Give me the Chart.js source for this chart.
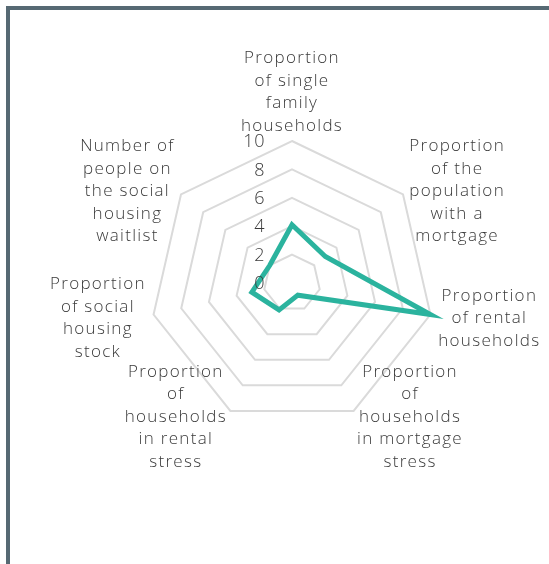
<!DOCTYPE html>
<html>
<head>
<meta charset="utf-8">
<script src="https://cdn.jsdelivr.net/npm/chart.js@4.4.0/dist/chart.umd.min.js"></script>
<style>
  body { margin: 0; background: #fff; }
  #box {
    position: absolute;
    left: 6px;
    top: 6px;
    width: 543px;
    height: 558px;
    border-left: 4px solid #566973;
    border-top: 4px solid #566973;
    box-sizing: border-box;
  }
  #wrap { position: absolute; left: 0; top: 0; width: 539px; height: 554px; }
</style>
</head>
<body>
<div id="box"><div id="wrap"><canvas id="radarChart"></canvas></div></div>
<script>
// categories (one per spoke)
const categories = [
    ['Proportion', 'of single', 'family', 'households'],
    ['Proportion', 'of the', 'population', 'with a', 'mortgage'],
    ['Proportion', 'of rental', 'households'],
    ['Proportion', 'of', 'households', 'in mortgage', 'stress'],
    ['Proportion', 'of', 'households', 'in rental', 'stress'],
    ['Proportion', 'of social', 'housing', 'stock'],
    ['Number of', 'people on', 'the social', 'housing', 'waitlist']
];

// values
const areaValues = [4.1, 3.0, 10, 0.95, 2.1, 2.9, 2.0];

// tick labels on the radial axis
const tickValues = [0, 2, 4, 6, 8, 10];

const textColor = '#3a3a3a';
const fontFamily = '"Open Sans", Lato, sans-serif';
const lineHeight = 22.5;

// Chart.js centres the radial tick labels and left/right aligns multiline point labels,
// the reference has right aligned ticks and centred label blocks, so draw them here
// from the scale's own positions
const labelPlugin = {
    id: 'labels',
    afterDatasetsDraw(chart) {
        const scale = chart.scales.r;
        const ctx = chart.ctx;
        ctx.save();
        ctx.fillStyle = textColor;

        // tick labels
        ctx.letterSpacing = '0.6px';
        ctx.font = '300 18px ' + fontFamily;
        ctx.textAlign = 'right';
        ctx.textBaseline = 'middle';
        tickValues.forEach(v => {
            const d = scale.getDistanceFromCenterForValue(v);
            ctx.fillText(String(v), scale.xCenter - 27, scale.yCenter - d + 1);
        });

        // point labels
        ctx.letterSpacing = '1.3px';
        ctx.font = '300 17px ' + fontFamily;
        ctx.textAlign = 'center';
        const outer = scale.drawingArea + 8;
        categories.forEach((lines, i) => {
            const pos = scale.getPointPosition(i, outer);
            const blockW = Math.max(...lines.map(l => ctx.measureText(l).width));
            const blockH = lines.length * lineHeight;
            let cx, top;
            if (i === 0) {
                cx = pos.x;
                top = pos.y - blockH + 4;
            } else {
                cx = pos.x > scale.xCenter ? pos.x + blockW / 2 : pos.x - blockW / 2;
                // the two lower blocks sit a little higher
                top = pos.y - blockH / 2 + (i === 3 || i === 4 ? -1 : 2);
            }
            lines.forEach((l, k) => {
                ctx.fillText(l, cx, top + lineHeight * (k + 0.5));
            });
        });
        ctx.restore();
    }
};

const ctx = document.getElementById('radarChart').getContext('2d');
const radarChart = new Chart(ctx, {
    type: 'radar',
    data: {
        labels: categories,
        datasets: [{
            label: 'Area',
            data: areaValues,
            borderColor: '#2bb39e',
            backgroundColor: 'rgba(0, 0, 0, 0)',
            borderWidth: 5,
            pointRadius: 0,
            fill: false,
        }]
    },
    options: {
        responsive: true,
        maintainAspectRatio: false,
        animation: false,
        layout: {
            padding: { top: 131, left: 140, right: 115, bottom: 139 }
        },
        plugins: {
            legend: { display: false },
            tooltip: { enabled: false }
        },
        scales: {
            r: {
                min: 0,
                max: 10,
                angleLines: { display: false },
                grid: { color: '#dadada', lineWidth: 2 },
                ticks: {
                    stepSize: 2,
                    display: false,
                },
                pointLabels: { display: false }
            }
        }
    },
    plugins: [labelPlugin]
});
</script>
</body>
</html>
